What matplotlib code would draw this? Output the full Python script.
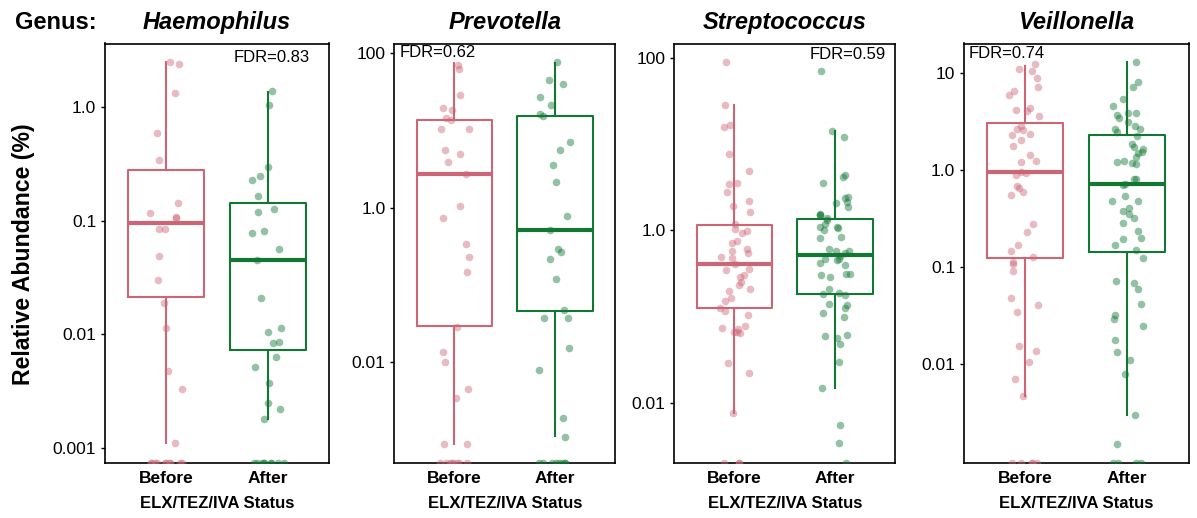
import numpy as np
import matplotlib
matplotlib.use("Agg")
import matplotlib.pyplot as plt
from matplotlib.ticker import NullLocator

plt.rcParams["font.family"] = ["Liberation Sans", "DejaVu Sans"]

# %% Data (relative abundance in %, 0 = not detected -> drawn on the bottom edge)

genera = ["Haemophilus", "Prevotella", "Streptococcus", "Veillonella"]
groups = ["Before", "After"]
fdr = [0.83, 0.62, 0.59, 0.74]

hae_before = [2.5, 2.4, 1.34, 0.59, 0.345, 0.144, 0.117, 0.108, 0.106, 0.085, 0.084,
              0.049, 0.030, 0.019, 0.0114, 0.0047, 0.0033, 0.0011,
              0, 0, 0, 0, 0, 0, 0, 0, 0, 0]
hae_after = [1.39, 1.05, 0.30, 0.25, 0.23, 0.164, 0.127, 0.119, 0.081, 0.078, 0.057,
             0.045, 0.021, 0.0114, 0.0104, 0.0086, 0.0083, 0.0063, 0.0051, 0.0037,
             0.0025, 0.0022, 0.0018,
             0, 0, 0, 0, 0, 0, 0, 0, 0]

prev_before = [69, 62, 28.5, 19.1, 18.0, 14.6, 13.5, 10.4, 10.3, 5.6, 4.9, 3.85, 2.7,
               1.06, 0.73, 0.34, 0.23, 0.148, 0.029, 0.0135, 0.0101, 0.0045, 0.0035,
               0.00089, 0.00089,
               0, 0, 0, 0, 0, 0, 0, 0]
prev_after = [76, 45, 40, 27, 21, 16.3, 15.4, 7.0, 5.5, 3.6, 2.16, 0.78, 0.51, 0.29,
              0.27, 0.22, 0.119, 0.047, 0.038, 0.037, 0.0156, 0.008, 0.0019, 0.0011,
              0, 0, 0, 0, 0, 0, 0, 0]

strep_before = [89, 28, 16.6, 15.7, 7.7, 4.9, 3.5, 3.4, 2.75, 2.17, 1.93, 1.63, 1.18,
                1.03, 0.99, 0.92, 0.76, 0.71, 0.60, 0.58, 0.54, 0.49, 0.48, 0.41,
                0.36, 0.35, 0.30, 0.29, 0.25, 0.23, 0.21, 0.20, 0.165, 0.151, 0.125,
                0.117, 0.104, 0.078, 0.073, 0.072, 0.067, 0.067, 0.065, 0.029, 0.022,
                0.0077, 0, 0, 0]
strep_after = [70, 14.2, 12.0, 4.4, 4.2, 3.5, 2.4, 2.37, 2.13, 2.07, 1.88, 1.53, 1.52,
               1.49, 1.38, 1.32, 1.18, 1.09, 1.08, 1.07, 1.0, 0.84, 0.82, 0.61, 0.58,
               0.58, 0.55, 0.51, 0.47, 0.46, 0.45, 0.415, 0.40, 0.31, 0.31, 0.30,
               0.29, 0.21, 0.185, 0.187, 0.177, 0.141, 0.136, 0.125, 0.110, 0.099,
               0.062, 0.060, 0.056, 0.048, 0.030, 0.0147, 0.0056, 0.0034, 0]

veil_before = [12.2, 11.0, 10.4, 8.8, 7.2, 6.5, 5.9, 4.3, 4.1, 4.0, 3.6, 2.85, 2.62,
               2.6, 2.34, 2.27, 2.05, 1.78, 1.44, 1.24, 1.22, 0.96, 0.94, 0.89, 0.68,
               0.66, 0.59, 0.55, 0.28, 0.23, 0.171, 0.148, 0.126, 0.114, 0.108,
               0.092, 0.048, 0.041, 0.035, 0.0153, 0.0139, 0.0106, 0.0071, 0.0047,
               0, 0, 0, 0, 0]
veil_after = [12.9, 8.0, 7.1, 5.4, 4.5, 3.9, 3.9, 3.7, 3.45, 3.14, 2.83, 2.66, 2.66,
              2.44, 2.25, 1.86, 1.72, 1.64, 1.54, 1.48, 1.37, 1.24, 1.19, 1.22, 1.15,
              0.80, 0.80, 0.71, 0.70, 0.54, 0.48, 0.48, 0.41, 0.38, 0.35, 0.32,
              0.285, 0.236, 0.202, 0.194, 0.168, 0.152, 0.124, 0.072, 0.068, 0.060,
              0.042, 0.032, 0.029, 0.025, 0.0178, 0.0134, 0.0111, 0.0080, 0.0030,
              0.00153, 0, 0, 0, 0]

# box stats: [lower whisker, Q1, median, Q3, upper whisker]
hae_box_before = [0.00109, 0.0213, 0.0952, 0.278, 2.5]
hae_box_after = [0.00178, 0.00724, 0.0452, 0.144, 1.38]
prev_box_before = [0.00089, 0.0296, 2.69, 13.5, 75]
prev_box_after = [0.00111, 0.0469, 0.51, 15.4, 75]
strep_box_before = [0.00769, 0.125, 0.411, 1.15, 28]
strep_box_after = [0.0147, 0.185, 0.518, 1.35, 14.1]
veil_box_before = [0.00469, 0.123, 0.946, 3.02, 11.8]
veil_box_after = [0.00304, 0.145, 0.718, 2.31, 12.8]

yticks = [[0.001, 0.01, 0.1, 1.0], [0.01, 1.0, 100], [0.01, 1.0, 100], [0.01, 0.1, 1.0, 10]]
ytick_labels = [["0.001", "0.01", "0.1", "1.0"], ["0.01", "1.0", "100"],
                ["0.01", "1.0", "100"], ["0.01", "0.1", "1.0", "10"]]

values = [(hae_before, hae_after), (prev_before, prev_after),
          (strep_before, strep_after), (veil_before, veil_after)]
boxes = [(hae_box_before, hae_box_after), (prev_box_before, prev_box_after),
         (strep_box_before, strep_box_after), (veil_box_before, veil_box_after)]

# %% Layout

W, H = 1197, 518
panel_x = [(104.5, 329.5), (394, 615.5), (674, 895.5), (963.5, 1188.5)]
top, bottom = 43.5, 462.5
ylims = [(7.4e-4, 3.66), (5.1e-4, 132), (2.04e-3, 146), (9.8e-4, 20)]
fdr_pos = [(0.914, 0.967, "right"), (0.024, 0.979, "left"),
           (0.955, 0.974, "right"), (0.025, 0.976, "left")]
colors = ["#CC6677", "#117733"]
rng = np.random.default_rng(7)

fig = plt.figure(figsize=(W / 100, H / 100), dpi=100)

for i, g in enumerate(genera):
    x0, x1 = panel_x[i]
    ax = fig.add_axes([x0 / W, 1 - bottom / H, (x1 - x0) / W, (bottom - top) / H])
    ax.set_yscale("log")
    ax.set_xlim(0.4, 2.6)
    ax.set_ylim(*ylims[i])

    for j in range(2):
        lo, q1, med, q3, hi = boxes[i][j]
        stats = [dict(whislo=lo, q1=q1, med=med, q3=q3, whishi=hi, fliers=[])]
        ax.bxp(stats, positions=[j + 1], widths=0.75, showcaps=False, showfliers=False,
               boxprops=dict(color=colors[j], lw=1.5),
               whiskerprops=dict(color=colors[j], lw=1.5),
               medianprops=dict(color=colors[j], lw=3.0),
               manage_ticks=False)
        v = np.asarray(values[i][j], dtype=float)
        y = np.where(v > 0, v, ylims[i][0])
        x = j + 1 + rng.uniform(-0.16, 0.16, len(v))
        ax.scatter(x, y, s=30, color=colors[j], alpha=0.45, linewidths=0, zorder=3)

    ax.set_xticks([1, 2], groups, fontweight="bold", fontsize=12.5)
    ax.set_yticks(yticks[i], ytick_labels[i], fontsize=12.5)
    ax.yaxis.set_minor_locator(NullLocator())
    ax.tick_params(axis="x", length=0, pad=6)
    ax.tick_params(axis="y", length=3, width=1, pad=3)
    for s in ax.spines.values():
        s.set_linewidth(1.2)

    fx, fy, ha = fdr_pos[i]
    ax.text(fx, fy, f"FDR={fdr[i]:.2f}", transform=ax.transAxes, ha=ha, va="center",
            fontsize=12)

    cx = (x0 + x1) / 2 / W
    fig.text(cx, 1 - 28.5 / H, g, ha="center", va="baseline", fontsize=17,
             fontweight="bold", fontstyle="italic")
    fig.text(cx, 1 - 504 / H, "ELX/TEZ/IVA Status", ha="center", va="center",
             fontsize=12, fontweight="bold")

fig.text(15 / W, 1 - 28.5 / H, "Genus:", ha="left", va="baseline", fontsize=17,
         fontweight="bold")
fig.text(24 / W, 1 - 254 / H, "Relative Abundance (%)", rotation=90, ha="center",
         va="center", fontsize=16.7, fontweight="bold")

fig.savefig("out.png", dpi=100)
